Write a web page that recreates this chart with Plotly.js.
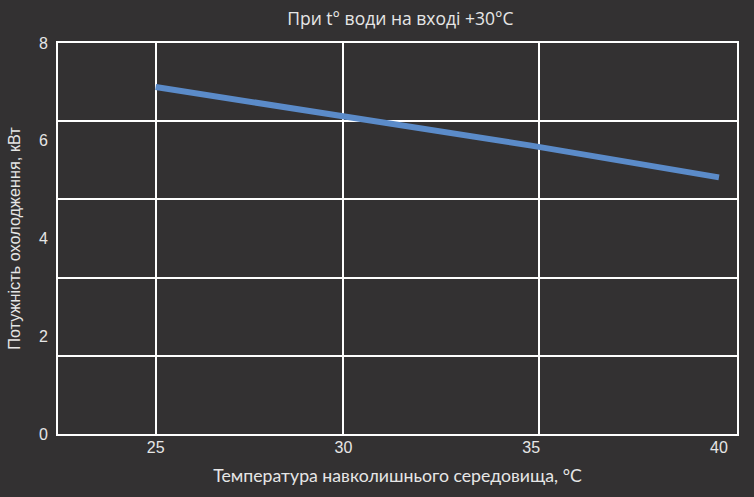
<!DOCTYPE html>
<html>
<head>
<meta charset="utf-8">
<script src="https://cdn.plot.ly/plotly-3.0.1.min.js"></script>
<style>
  html, body { margin: 0; padding: 0; background: #333132; }
  #chart { width: 754px; height: 497px; }
</style>
</head>
<body>
<div id="chart"></div>
<script>
// ambient temperature, °C
const ambientTemp = [25, 30, 35, 40];
// cooling capacity, kW
const coolingPower = [7.1, 6.5, 5.9, 5.25];

const yTickVals = [0, 2, 4, 6, 8];
const xTickVals = [25, 30, 35, 40];
// grid lines in the original do not sit on the labelled ticks
const yGridVals = [1.6, 3.2, 4.8, 6.4];
const xGridVals = [25, 30, 35.2];

const bg = '#333132';
const textColor = '#e6e6e6';

const traces = [
    {
        x: ambientTemp,
        y: coolingPower,
        type: 'scatter',
        mode: 'lines',
        line: { color: '#5b8bc9', width: 6 },
        showlegend: false,
        hoverinfo: 'none'
    },
    // invisible trace to carry the grid axes
    {
        x: [22.4, 40.48],
        y: [0, 8],
        xaxis: 'x2',
        yaxis: 'y2',
        type: 'scatter',
        mode: 'markers',
        marker: { opacity: 0 },
        showlegend: false,
        hoverinfo: 'none'
    }
];

const layout = {
    width: 754,
    height: 497,
    paper_bgcolor: bg,
    plot_bgcolor: bg,
    margin: { l: 58, r: 17, t: 43, b: 63 },
    title: {
        text: 'При t° води на вході +30°C',
        font: { family: 'Open Sans, sans-serif', size: 17.5, color: textColor },
        x: 0.531,
        xanchor: 'center',
        y: 0.963,
        yanchor: 'middle'
    },
    xaxis: {
        range: [22.4, 40.48],
        tickmode: 'array',
        tickvals: xTickVals,
        ticktext: xTickVals.map(String),
        showgrid: false,
        zeroline: false,
        showline: false,
        ticks: '',
        ticklabelstandoff: 2,
        tickfont: { family: 'Liberation Sans, Arial, sans-serif', size: 16, color: textColor },
        title: {
            text: 'Температура навколишнього середовища, °C',
            font: { family: 'Lato, sans-serif', size: 17.7, color: textColor },
            standoff: 14
        },
        fixedrange: true
    },
    yaxis: {
        range: [0, 8],
        tickmode: 'array',
        tickvals: yTickVals,
        showgrid: false,
        zeroline: false,
        showline: false,
        ticks: '',
        ticklabelstandoff: 9,
        tickfont: { family: 'Liberation Sans, Arial, sans-serif', size: 16, color: textColor },
        title: {
            text: 'Потужність охолодження, кВт',
            font: { family: 'Liberation Sans, Arial, sans-serif', size: 16.3, color: textColor },
            standoff: 14
        },
        fixedrange: true
    },
    xaxis2: {
        overlaying: 'x',
        range: [22.4, 40.48],
        tickmode: 'array',
        tickvals: xGridVals,
        showticklabels: false,
        showgrid: true,
        gridcolor: '#ffffff',
        gridwidth: 2,
        zeroline: false,
        showline: true,
        mirror: true,
        linecolor: '#ffffff',
        linewidth: 2,
        ticks: '',
        fixedrange: true
    },
    yaxis2: {
        overlaying: 'y',
        range: [0, 8],
        tickmode: 'array',
        tickvals: yGridVals,
        showticklabels: false,
        showgrid: true,
        gridcolor: '#ffffff',
        gridwidth: 2,
        zeroline: false,
        showline: true,
        mirror: true,
        linecolor: '#ffffff',
        linewidth: 2,
        ticks: '',
        layer: 'below traces',
        fixedrange: true
    }
};

const config = { displayModeBar: false, staticPlot: true };

Plotly.newPlot('chart', traces, layout, config);
</script>
</body>
</html>
